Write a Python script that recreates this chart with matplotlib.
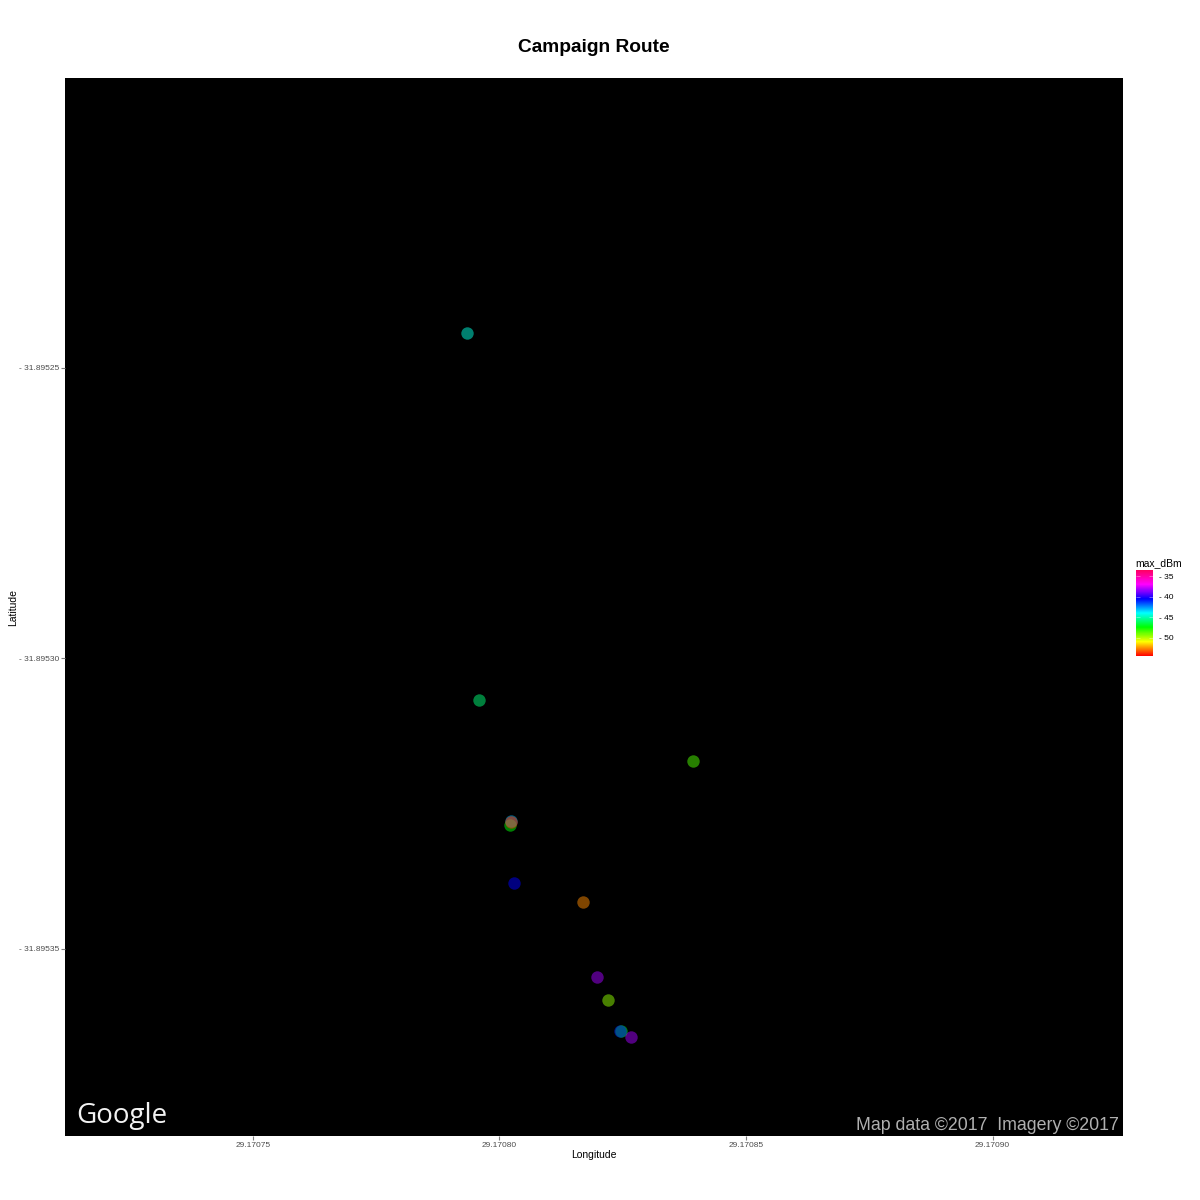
import matplotlib
matplotlib.use("Agg")
import matplotlib.pyplot as plt
from matplotlib.colors import LinearSegmentedColormap, Normalize
from matplotlib.cm import ScalarMappable

plt.rcParams['font.family'] = ['Liberation Sans', 'DejaVu Sans']

# Drawing order follows the overlap order seen in the picture
longitude = [29.17079345, 29.17079588, 29.17083927, 29.17080217, 29.17080237, 29.17080237,
             29.17080308, 29.17081697, 29.17081981, 29.17082204, 29.17082468, 29.17082447,
             29.17082680]
latitude = [-31.89524398, -31.89530714, -31.89531764, -31.89532866, -31.89532800, -31.89532823,
            -31.89533873, -31.89534191, -31.89535482, -31.89535878, -31.89536420, -31.89536411,
            -31.89536515]
max_dbm = [-44.4, -45.8, -48.5, -47.3, -43.0, -53.6,
           -40.5, -52.5, -38.3, -49.4, -47.0, -41.0,
           -38.3]

x_ticks = [29.17075, 29.17080, 29.17085, 29.17090]
x_labels = ['29.17075', '29.17080', '29.17085', '29.17090']
y_ticks = [-31.89525, -31.89530, -31.89535]
y_labels = ['- 31.89525', '- 31.89530', '- 31.89535']
legend_ticks = [-35, -40, -45, -50]
legend_labels = ['- 35', '- 40', '- 45', '- 50']
scale_colours = ['#FF0000', '#FFFF00', '#00FF00', '#00FFFF', '#0000FF', '#FF00FF', '#FF0060']
scale_limits = (-54.4, -33.5)
x_limits = (29.17071194, 29.17092646)
y_limits = (-31.89538219, -31.89520009)

W = H = 1200
fig = plt.figure(figsize=(12, 12), dpi=100, facecolor='white')


def box(x0, y0, x1, y1):
    return [x0 / W, 1 - y1 / H, (x1 - x0) / W, (y1 - y0) / H]


ax = fig.add_axes(box(65, 78, 1123, 1136))
ax.set_facecolor('black')
cmap = LinearSegmentedColormap.from_list('route', scale_colours, N=256)
norm = Normalize(*scale_limits)
for lon, lat, val in zip(longitude, latitude, max_dbm):
    ax.scatter(lon, lat, c=[val], cmap=cmap, norm=norm, s=80, alpha=0.5, linewidths=0, zorder=3)
ax.set_xlim(*x_limits)
ax.set_ylim(*y_limits)
ax.set_xticks(x_ticks, x_labels)
ax.set_yticks(y_ticks, y_labels)
ax.tick_params(axis='both', length=3, width=0.8, color='#7F7F7F', labelcolor='#4D4D4D',
               labelsize=6, pad=1)
for s in ax.spines.values():
    s.set_visible(False)

ax.text(0.0105, 0.0125, 'Google', transform=ax.transAxes, color='#F2F2F2', fontsize=20,
        family=['Open Sans', 'DejaVu Sans'], ha='left', va='baseline')
ax.text(0.9965, 0.0015, 'Map data ©2017  Imagery ©2017', transform=ax.transAxes, color='#B0B0B0',
        fontsize=12.8, ha='right', va='bottom')

fig.text(594 / W, 1 - 47 / H, 'Campaign Route', fontsize=13.8, fontweight='bold',
         ha='center', va='center', color='black')
fig.text(594 / W, 1 - 1155 / H, 'Longitude', fontsize=7.5, ha='center', va='center')
fig.text(13 / W, 1 - 607 / H, 'Latitude', fontsize=7.5, rotation=90, ha='center', va='center')

cax = fig.add_axes(box(1136, 570, 1153, 656))
cb = fig.colorbar(ScalarMappable(norm=norm, cmap=cmap), cax=cax)
cb.outline.set_visible(False)
cb.set_ticks(legend_ticks, labels=legend_labels)
cax.tick_params(axis='y', which='major', left=True, right=True, direction='in', length=3,
                width=0.5, color='#FFFFFF80', labelcolor='black', labelsize=6, pad=4)
fig.text(1135 / W, 1 - 563 / H, 'max_dBm', fontsize=7.5, ha='left', va='center')

fig.savefig('out.png', dpi=100, facecolor='white')
